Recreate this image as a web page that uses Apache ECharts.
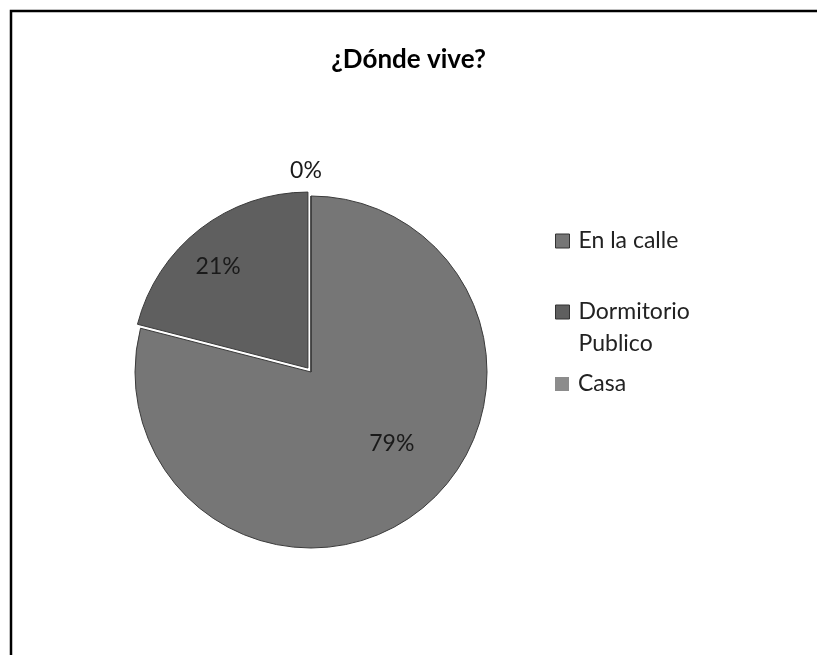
<!DOCTYPE html>
<html>
<head>
<meta charset="utf-8">
<title>¿Dónde vive?</title>
<script src="https://cdn.jsdelivr.net/npm/echarts@6/dist/echarts.min.js"></script>
<style>
  html, body { margin: 0; padding: 0; background: #fff; }
  #donde-chart { width: 817px; height: 655px; }
</style>
</head>
<body>
<div id="donde-chart"></div>
<script>
// datos
const categorias = ['En la calle', 'Dormitorio Publico', 'Casa'];
const valores = [79, 21, 0];
const colores = ['#767676', '#5f5f5f', '#8c8c8c'];

const chartEle = document.getElementById('donde-chart');
const dondeChart = echarts.init(chartEle);

const pieData = categorias.map((name, i) => {
  const item = {
    name: name,
    value: valores[i],
    itemStyle: { color: colores[i] },
  };
  if (name === 'Dormitorio Publico') item.selected = true;
  if (valores[i] === 0) {
    // la rebanada vacia lleva la etiqueta fuera
    item.label = { position: 'outside' };
    item.labelLine = { show: false, length: 12, length2: 0 };
  }
  return item;
});

const legendBase = {
  orient: 'vertical',
  left: 550,
  icon: 'rect',
  itemWidth: 14,
  itemHeight: 14,
  itemGap: 0,
  selectedMode: false,
  textStyle: {
    fontFamily: 'Lato',
    fontSize: 23,
    color: '#222',
    lineHeight: 32,
    padding: [0, 0, 0, 4],
  },
};

const legendItem = (i) => ({
  name: categorias[i],
  itemStyle: i < 2 ? { borderColor: '#333', borderWidth: 1 } : { borderWidth: 0 },
});

dondeChart.setOption({
  animation: false,
  title: {
    text: '¿Dónde vive?',
    left: 'center',
    top: 42,
    textStyle: { fontFamily: 'Lato', fontSize: 26, fontWeight: 'bold', color: '#000' },
  },
  legend: [
    Object.assign({}, legendBase, { top: 220, data: [legendItem(0)] }),
    Object.assign({}, legendBase, {
      top: 259,
      data: [legendItem(1)],
      // linea vacia arriba para que el icono quede junto a la primera linea
      formatter: (n) => '\u00a0\n' + n.replace(' ', '\n'),
    }),
    Object.assign({}, legendBase, { top: 363, data: [legendItem(2)] }),
  ],
  graphic: [
    {
      type: 'rect',
      silent: true,
      shape: { x: 11, y: 11, width: 1000, height: 1000 },
      style: { fill: 'none', stroke: '#000', lineWidth: 2.5 },
    },
  ],
  series: [
    {
      name: '¿Dónde vive?',
      type: 'pie',
      center: [311, 372],
      radius: 176,
      startAngle: 90,
      clockwise: true,
      selectedMode: 'multiple',
      selectedOffset: 5,
      avoidLabelOverlap: false,
      itemStyle: { borderColor: '#3a3a3a', borderWidth: 1 },
      emphasis: { disabled: true },
      label: {
        show: true,
        position: 'inside',
        formatter: '{d}%',
        fontFamily: 'Lato',
        fontSize: 23,
        color: '#1a1a1a',
      },
      labelLine: { show: false },
      labelLayout: function (p) {
        // Excel coloca las etiquetas un poco mas hacia fuera
        if (p.dataIndex === 0) return { dx: 25, dy: 0 };
        if (p.dataIndex === 1) return { dx: -34, dy: -30 };
        return { align: 'center', verticalAlign: 'bottom', dy: -2 };
      },
      data: pieData,
    },
  ],
});

window.addEventListener('resize', function () {
  dondeChart.resize();
});
</script>
</body>
</html>
